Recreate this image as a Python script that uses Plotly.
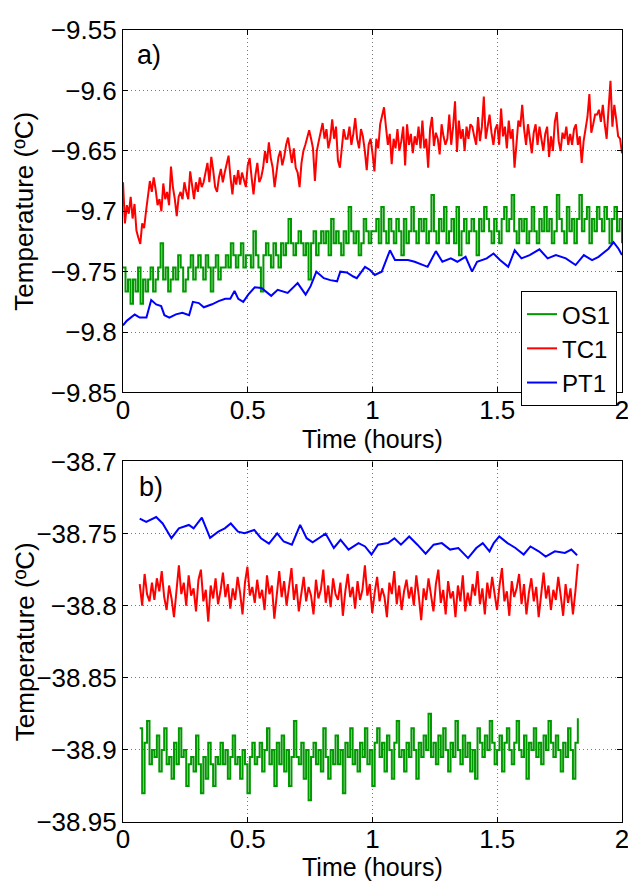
import numpy as np
import plotly.graph_objects as go

# ---------------- data: panel a ----------------
tc1_a = [
    -9.676, -9.710, -9.695, -9.702, -9.688, -9.706, -9.694, -9.716, -9.722, -9.727, -9.710, -9.714, -9.700,
    -9.688, -9.675, -9.684, -9.672, -9.682, -9.695, -9.690, -9.700, -9.677, -9.690, -9.684, -9.695, -9.663,
    -9.680, -9.690, -9.704, -9.688, -9.684, -9.690, -9.676, -9.684, -9.690, -9.667, -9.680, -9.690, -9.676,
    -9.684, -9.672, -9.680, -9.676, -9.668, -9.660, -9.676, -9.655, -9.666, -9.680, -9.684, -9.672, -9.665,
    -9.676, -9.668, -9.662, -9.654, -9.672, -9.686, -9.670, -9.678, -9.666, -9.678, -9.668, -9.674, -9.680,
    -9.662, -9.656, -9.672, -9.686, -9.670, -9.660, -9.676, -9.672, -9.664, -9.650, -9.660, -9.643, -9.656,
    -9.664, -9.680, -9.668, -9.655, -9.650, -9.662, -9.655, -9.645, -9.639, -9.652, -9.660, -9.648, -9.664,
    -9.668, -9.680, -9.660, -9.650, -9.645, -9.640, -9.633, -9.640, -9.648, -9.675, -9.650, -9.642, -9.634,
    -9.627, -9.640, -9.632, -9.648, -9.640, -9.624, -9.640, -9.630, -9.658, -9.664, -9.645, -9.632, -9.640,
    -9.640, -9.630, -9.645, -9.636, -9.623, -9.640, -9.648, -9.632, -9.638, -9.650, -9.666, -9.645, -9.640,
    -9.652, -9.667, -9.640, -9.648, -9.628, -9.620, -9.614, -9.630, -9.645, -9.636, -9.661, -9.640, -9.648,
    -9.632, -9.650, -9.642, -9.630, -9.662, -9.628, -9.645, -9.636, -9.652, -9.638, -9.645, -9.630, -9.648,
    -9.625, -9.648, -9.640, -9.664, -9.632, -9.622, -9.646, -9.635, -9.640, -9.653, -9.628, -9.638, -9.645,
    -9.640, -9.620, -9.645, -9.630, -9.609, -9.651, -9.625, -9.640, -9.632, -9.650, -9.630, -9.640, -9.628,
    -9.630, -9.638, -9.645, -9.622, -9.642, -9.630, -9.605, -9.640, -9.628, -9.620, -9.635, -9.645, -9.632,
    -9.628, -9.645, -9.615, -9.638, -9.630, -9.648, -9.625, -9.640, -9.632, -9.664, -9.640, -9.625, -9.630,
    -9.612, -9.632, -9.645, -9.628, -9.640, -9.652, -9.635, -9.628, -9.645, -9.630, -9.640, -9.650, -9.636,
    -9.630, -9.655, -9.638, -9.650, -9.626, -9.618, -9.642, -9.650, -9.635, -9.640, -9.630, -9.645, -9.636,
    -9.645, -9.632, -9.628, -9.645, -9.638, -9.660, -9.642, -9.630, -9.622, -9.603, -9.635, -9.628, -9.620,
    -9.620, -9.616, -9.626, -9.612, -9.628, -9.640, -9.615, -9.592, -9.630, -9.612, -9.624, -9.638, -9.640, -9.652,
]

os1_a = [
    -9.7465, -9.7665, -9.7565, -9.7765, -9.7565, -9.7665, -9.7465, -9.7765, -9.7565, -9.7665,
    -9.7565, -9.7465, -9.7665, -9.7565, -9.7465, -9.7265, -9.7565, -9.7465, -9.7665, -9.7565,
    -9.7465, -9.7565, -9.7365, -9.7465, -9.7665, -9.7565, -9.7465, -9.7365, -9.7565, -9.7465,
    -9.7365, -9.7465, -9.7565, -9.7365, -9.7465, -9.7665, -9.7465, -9.7365, -9.7565, -9.7465,
    -9.7465, -9.7365, -9.7465, -9.7265, -9.7365, -9.7465, -9.7365, -9.7265, -9.7465, -9.7365,
    -9.7365, -9.7465, -9.7165, -9.7365, -9.7465, -9.7665, -9.7365, -9.7265, -9.7365, -9.7465,
    -9.7265, -9.7365, -9.7465, -9.7265, -9.7365, -9.7265, -9.7065, -9.7265, -9.7365, -9.7265,
    -9.7165, -9.7265, -9.7365, -9.7265, -9.7565, -9.7265, -9.7165, -9.7365, -9.7265, -9.7165,
    -9.7265, -9.7165, -9.7365, -9.7065, -9.7265, -9.7165, -9.7265, -9.7365, -9.7165, -9.7265,
    -9.6965, -9.7165, -9.7265, -9.7165, -9.7365, -9.7265, -9.7065, -9.7165, -9.7265, -9.7165,
    -9.7165, -9.7065, -9.7265, -9.6965, -9.7165, -9.7265, -9.7065, -9.7165, -9.7265, -9.7065,
    -9.7165, -9.7365, -9.7065, -9.7265, -9.7165, -9.6965, -9.7165, -9.7265, -9.7065, -9.7165,
    -9.7065, -9.7265, -9.7165, -9.6865, -9.7165, -9.7265, -9.7065, -9.7165, -9.6965, -9.7265,
    -9.7165, -9.7065, -9.7265, -9.6965, -9.7365, -9.7165, -9.7065, -9.7265, -9.7165, -9.7065,
    -9.7165, -9.7365, -9.7065, -9.7165, -9.6965, -9.7065, -9.7165, -9.7265, -9.7065, -9.7165,
    -9.7265, -9.7065, -9.6965, -9.7165, -9.7065, -9.6865, -9.7165, -9.7265, -9.7065, -9.7165,
    -9.7065, -9.7265, -9.7165, -9.6965, -9.7165, -9.7265, -9.7065, -9.7165, -9.6965, -9.7165,
    -9.7065, -9.7265, -9.7165, -9.6865, -9.7065, -9.7165, -9.7265, -9.6965, -9.7165, -9.7065,
    -9.7265, -9.7065, -9.6865, -9.7165, -9.7065, -9.6965, -9.7265, -9.7065, -9.7165, -9.6965,
    -9.7065, -9.7165, -9.6965, -9.7065, -9.7265, -9.7065, -9.6965, -9.7165, -9.7065, -9.7265,
]

pt1_a_t = [
    0.000, 0.015, 0.047, 0.067, 0.094, 0.113, 0.133, 0.153, 0.166, 0.186,
    0.212, 0.238, 0.265, 0.280, 0.304, 0.324, 0.357, 0.383, 0.410, 0.430,
    0.447, 0.462, 0.482, 0.502, 0.528, 0.555, 0.594, 0.620, 0.660, 0.700,
    0.732, 0.752, 0.775, 0.805, 0.831, 0.858, 0.871, 0.897, 0.923, 0.937,
    0.970, 0.990, 1.009, 1.037, 1.070, 1.090, 1.116, 1.142, 1.169, 1.195,
    1.221, 1.254, 1.280, 1.314, 1.340, 1.373, 1.399, 1.419, 1.458, 1.485,
    1.511, 1.544, 1.570, 1.597, 1.630, 1.669, 1.702, 1.735, 1.775, 1.814,
    1.847, 1.880, 1.906, 1.946, 1.966, 1.986, 2.000,
]
pt1_a = [
    -9.7945, -9.7907, -9.7855, -9.7880, -9.7880, -9.7735, -9.7771, -9.7785, -9.7860, -9.7880,
    -9.7853, -9.7840, -9.7860, -9.7750, -9.7760, -9.7795, -9.7770, -9.7744, -9.7725, -9.7725,
    -9.7660, -9.7725, -9.7750, -9.7690, -9.7630, -9.7635, -9.7700, -9.7650, -9.7676, -9.7595,
    -9.7690, -9.7620, -9.7500, -9.7554, -9.7570, -9.7580, -9.7500, -9.7506, -9.7540, -9.7554,
    -9.7460, -9.7486, -9.7527, -9.7500, -9.7323, -9.7404, -9.7404, -9.7404, -9.7418, -9.7440,
    -9.7460, -9.7330, -9.7418, -9.7390, -9.7418, -9.7377, -9.7500, -9.7418, -9.7390, -9.7350,
    -9.7404, -9.7460, -9.7323, -9.7390, -9.7363, -9.7315, -9.7390, -9.7363, -9.7390, -9.7445,
    -9.7363, -9.7404, -9.7377, -9.7310, -9.7255, -9.7310, -9.7363,
]

# ---------------- data: panel b ----------------
tc1_b = [
    -38.785, -38.800, -38.778, -38.792, -38.797, -38.784, -38.796, -38.781, -38.790, -38.776,
    -38.794, -38.803, -38.786, -38.795, -38.808, -38.789, -38.772, -38.792, -38.784, -38.800,
    -38.779, -38.793, -38.788, -38.804, -38.782, -38.775, -38.797, -38.789, -38.811, -38.786,
    -38.795, -38.781, -38.799, -38.790, -38.777, -38.794, -38.785, -38.802, -38.788, -38.796,
    -38.780, -38.791, -38.806, -38.784, -38.773, -38.793, -38.787, -38.798, -38.782, -38.795,
    -38.789, -38.803, -38.779, -38.792, -38.786, -38.809, -38.790, -38.776, -38.794, -38.783,
    -38.800, -38.788, -38.774, -38.796, -38.785, -38.804, -38.791, -38.780, -38.797, -38.787,
    -38.793, -38.806, -38.782, -38.795, -38.789, -38.775, -38.798, -38.786, -38.801, -38.781,
    -38.792, -38.796, -38.784, -38.807, -38.790, -38.778, -38.794, -38.787, -38.802, -38.783,
    -38.796, -38.789, -38.772, -38.793, -38.785, -38.805, -38.791, -38.780, -38.797, -38.788,
    -38.794, -38.808, -38.784, -38.792, -38.776, -38.799, -38.786, -38.803, -38.790, -38.782,
    -38.795, -38.787, -38.800, -38.779, -38.793, -38.810, -38.788, -38.796, -38.781, -38.792,
    -38.804, -38.785, -38.775, -38.798, -38.789, -38.806, -38.783, -38.795, -38.790, -38.808,
    -38.786, -38.797, -38.779, -38.804, -38.791, -38.800, -38.785, -38.793, -38.776, -38.799,
    -38.788, -38.806, -38.784, -38.795, -38.780, -38.792, -38.803, -38.786, -38.774, -38.797,
    -38.790, -38.807, -38.783, -38.794, -38.788, -38.778, -38.799, -38.785, -38.806, -38.791,
    -38.781, -38.797, -38.787, -38.808, -38.790, -38.777, -38.795, -38.786, -38.803, -38.789,
    -38.796, -38.780, -38.793, -38.807, -38.785, -38.798, -38.788, -38.806, -38.790, -38.771,
]

os1_b = [
    -38.885, -38.930, -38.895, -38.880, -38.910, -38.900, -38.905, -38.890, -38.915, -38.900,
    -38.885, -38.910, -38.905, -38.920, -38.895, -38.910, -38.885, -38.905, -38.900, -38.925,
    -38.910, -38.905, -38.915, -38.890, -38.910, -38.930, -38.905, -38.920, -38.895, -38.910,
    -38.925, -38.905, -38.910, -38.895, -38.910, -38.900, -38.920, -38.905, -38.890, -38.910,
    -38.905, -38.920, -38.900, -38.910, -38.930, -38.905, -38.895, -38.910, -38.905, -38.895,
    -38.915, -38.900, -38.885, -38.910, -38.900, -38.925, -38.895, -38.910, -38.890, -38.915,
    -38.900, -38.925, -38.905, -38.880, -38.905, -38.910, -38.895, -38.920, -38.900, -38.935,
    -38.905, -38.895, -38.910, -38.900, -38.915, -38.885, -38.905, -38.920, -38.900, -38.910,
    -38.890, -38.910, -38.900, -38.930, -38.895, -38.905, -38.885, -38.910, -38.900, -38.915,
    -38.895, -38.905, -38.885, -38.910, -38.900, -38.925, -38.895, -38.885, -38.905, -38.895,
    -38.915, -38.890, -38.900, -38.920, -38.895, -38.880, -38.905, -38.900, -38.915, -38.895,
    -38.905, -38.885, -38.900, -38.920, -38.895, -38.905, -38.890, -38.900, -38.875, -38.905,
    -38.895, -38.910, -38.890, -38.905, -38.885, -38.900, -38.915, -38.895, -38.905, -38.880,
    -38.900, -38.910, -38.890, -38.905, -38.895, -38.915, -38.900, -38.920, -38.885, -38.895,
    -38.905, -38.890, -38.900, -38.880, -38.895, -38.910, -38.900, -38.890, -38.915, -38.895,
    -38.885, -38.900, -38.910, -38.895, -38.880, -38.900, -38.905, -38.890, -38.920, -38.895,
    -38.900, -38.885, -38.905, -38.895, -38.910, -38.890, -38.900, -38.880, -38.895, -38.905,
    -38.890, -38.900, -38.915, -38.895, -38.905, -38.885, -38.900, -38.920, -38.895, -38.878,
]

pt1_b_t = [
    0.067, 0.093, 0.133, 0.159, 0.194, 0.224, 0.264, 0.283, 0.316, 0.349,
    0.382, 0.408, 0.432, 0.461, 0.487, 0.526, 0.553, 0.585, 0.618, 0.644,
    0.677, 0.710, 0.736, 0.760, 0.812, 0.845, 0.872, 0.904, 0.944, 0.970,
    0.996, 1.022, 1.062, 1.088, 1.114, 1.147, 1.180, 1.213, 1.245, 1.278,
    1.311, 1.344, 1.383, 1.416, 1.442, 1.469, 1.486, 1.508, 1.541, 1.573,
    1.606, 1.633, 1.666, 1.694, 1.731, 1.771, 1.797, 1.820,
]
pt1_b = [
    -38.7396, -38.7419, -38.7385, -38.7430, -38.7532, -38.7464, -38.7440, -38.7464, -38.7390, -38.7530,
    -38.7487, -38.7464, -38.7430, -38.7487, -38.7498, -38.7475, -38.7532, -38.7570, -38.7498, -38.7555,
    -38.7577, -38.7440, -38.7532, -38.7560, -38.7500, -38.7600, -38.7543, -38.7611, -38.7566, -38.7589,
    -38.7645, -38.7577, -38.7566, -38.7532, -38.7577, -38.7520, -38.7577, -38.7640, -38.7577, -38.7566,
    -38.7611, -38.7600, -38.7670, -38.7600, -38.7566, -38.7623, -38.7566, -38.7520, -38.7566, -38.7600,
    -38.7645, -38.7589, -38.7623, -38.7660, -38.7623, -38.7634, -38.7611, -38.7650,
]

t_a_range = (0.0, 2.0)
t_b_range = (0.067, 1.823)

GREEN = "rgb(0,153,0)"
RED = "rgb(255,0,0)"
BLUE = "rgb(0,0,255)"
FONT = "Liberation Sans, Arial, Helvetica, sans-serif"
FS = 26
TFS = 25

fig = go.Figure()
fig.add_trace(go.Scatter(x=np.linspace(*t_a_range, len(os1_a)), y=os1_a, mode="lines", name="OS1",
                         line=dict(color=GREEN, width=2, shape="hv"), xaxis="x", yaxis="y"))
fig.add_trace(go.Scatter(x=np.linspace(*t_a_range, len(tc1_a)), y=tc1_a, mode="lines", name="TC1",
                         line=dict(color=RED, width=2), xaxis="x", yaxis="y"))
fig.add_trace(go.Scatter(x=pt1_a_t, y=pt1_a, mode="lines", name="PT1",
                         line=dict(color=BLUE, width=2), xaxis="x", yaxis="y"))

fig.add_trace(go.Scatter(x=np.linspace(*t_b_range, len(os1_b)), y=os1_b, mode="lines", name="OS1",
                         line=dict(color=GREEN, width=2, shape="hv"), xaxis="x2", yaxis="y2",
                         showlegend=False))
fig.add_trace(go.Scatter(x=np.linspace(*t_b_range, len(tc1_b)), y=tc1_b, mode="lines", name="TC1",
                         line=dict(color=RED, width=2), xaxis="x2", yaxis="y2", showlegend=False))
fig.add_trace(go.Scatter(x=pt1_b_t, y=pt1_b, mode="lines", name="PT1",
                         line=dict(color=BLUE, width=2), xaxis="x2", yaxis="y2", showlegend=False))

common = dict(
    showline=True, linecolor="black", linewidth=1.3, mirror="ticks",
    ticks="inside", ticklen=5, tickcolor="black", tickwidth=1,
    showgrid=True, gridcolor="rgb(120,120,120)", griddash="1px,3px", gridwidth=1,
    zeroline=False, tickfont=dict(family=FONT, size=FS, color="black"),
)
xcommon = dict(common, range=[0, 2], tickvals=[0, 0.5, 1, 1.5, 2],
               ticktext=["0", "0.5", "1", "1.5", "2"], ticklabelstandoff=-6)

x_title = "Time (hours)"
y_title = "Temperature (ºC)"

# The page body keeps its default 8px margin, so the figure is sized and
# placed to land on the 636x882 window exactly.
fig.update_layout(
    width=628, height=874,
    margin=dict(l=115, r=7, t=10, b=60),
    paper_bgcolor="white", plot_bgcolor="white",
    font=dict(family=FONT, size=FS, color="black"),
    xaxis=dict(xcommon, domain=[0, 1], anchor="y"),
    yaxis=dict(common, domain=[0.5423, 1], anchor="x", range=[-9.85, -9.55],
               tickvals=[-9.85, -9.8, -9.75, -9.7, -9.65, -9.6, -9.55],
               ticktext=["−9.85", "−9.8", "−9.75", "−9.7", "−9.65", "−9.6", "−9.55"]),
    xaxis2=dict(xcommon, domain=[0, 1], anchor="y2"),
    yaxis2=dict(common, domain=[0, 0.4552], anchor="x2", range=[-38.95, -38.7],
                tickvals=[-38.95, -38.9, -38.85, -38.8, -38.75, -38.7],
                ticktext=["−38.95", "−38.9", "−38.85", "−38.8", "−38.75", "−38.7"]),
    legend=dict(x=0.990, xanchor="right", y=0.6704, yanchor="top",
                bgcolor="white", bordercolor="black", borderwidth=1,
                font=dict(family=FONT, size=24, color="black"),
                tracegroupgap=0, itemwidth=30),
    annotations=[
        dict(text=x_title, xref="x domain", yref="paper", x=0.5, y=0.4838,
             xanchor="center", yanchor="middle", showarrow=False,
             font=dict(family=FONT, size=TFS, color="black")),
        dict(text=x_title, xref="x2 domain", yref="paper", x=0.5, y=-0.0572,
             xanchor="center", yanchor="middle", showarrow=False,
             font=dict(family=FONT, size=TFS, color="black")),
        dict(text=y_title, xref="paper", yref="y domain", x=-0.1976, y=0.5,
             xanchor="center", yanchor="middle", textangle=-90, showarrow=False,
             font=dict(family=FONT, size=FS, color="black")),
        dict(text=y_title, xref="paper", yref="y2 domain", x=-0.1976, y=0.5,
             xanchor="center", yanchor="middle", textangle=-90, showarrow=False,
             font=dict(family=FONT, size=FS, color="black")),
        dict(text="a)", xref="x domain", yref="y domain", x=0.024, y=0.932,
             xanchor="left", yanchor="middle", showarrow=False,
             font=dict(family=FONT, size=27, color="black")),
        dict(text="b)", xref="x2 domain", yref="y2 domain", x=0.028, y=0.929,
             xanchor="left", yanchor="middle", showarrow=False,
             font=dict(family=FONT, size=27, color="black")),
    ],
    showlegend=True,
)

fig.write_html("out.html")
